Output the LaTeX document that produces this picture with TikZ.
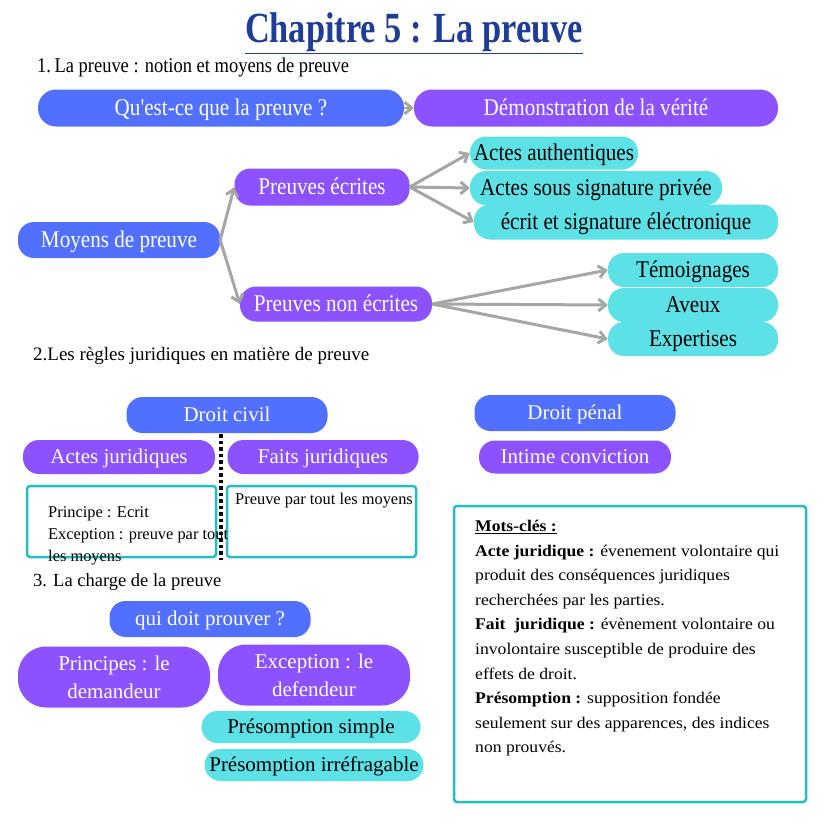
\documentclass[tikz,border=0pt]{standalone}
\usepackage{fontspec}
\setmainfont{Liberation Serif}
\newfontfamily\condfont[FakeStretch=0.88]{Liberation Serif}
\newfontfamily\titlefont[FakeStretch=0.8]{Liberation Serif}
\newfontfamily\widefont[FakeStretch=1.08]{Liberation Serif}
\usetikzlibrary{arrows.meta}
\definecolor{cblue}{HTML}{5170FF}
\definecolor{cpurple}{HTML}{8C52FF}
\definecolor{ccyan}{HTML}{5CE1E6}
\definecolor{cteal}{HTML}{22BFC2}
\definecolor{ctitle}{HTML}{1F3C96}
\definecolor{cgray}{HTML}{A6A6A6}
\tikzset{
  pill/.style={draw=none, rounded corners=16pt, minimum height=36pt, inner sep=0pt, align=center},
  bluepill/.style={pill, fill=cblue, text=white},
  purplepill/.style={pill, fill=cpurple, text=white},
  cyanpill/.style={pill, fill=ccyan, text=black},
  topfont/.style={text height=19pt, text depth=4.6pt, font=\condfont\fontsize{24}{26}\selectfont},
  lowfont/.style={font=\fontsize{21}{28}\selectfont},
  vc/.style={text height=16.6pt, text depth=4pt},
  garrow/.style={draw=cgray, line width=3pt, -{Straight Barb[length=7pt,width=12pt,line width=3pt]}},
  heading/.style={anchor=west, inner sep=0pt, font=\fontsize{19}{21}\selectfont},
  tealbox/.style={draw=cteal, line width=2.5pt, rounded corners=3pt, inner sep=0pt},
  dotline/.style={line width=3.5pt, dash pattern=on 3.5pt off 3pt}
}
\begin{document}
\begin{tikzpicture}[x=1pt,y=-1pt]
\useasboundingbox (0,0) rectangle (828,828);
\fill[white] (0,0) rectangle (828,828);

% Title
\node[inner sep=0pt, text=ctitle, font=\titlefont\bfseries\fontsize{43}{46}\selectfont] (title) at (414,33) {\underline{Chapitre 5 : La preuve}};

% Section 1
\node[heading, font=\condfont\fontsize{21}{23}\selectfont] (h1) at (37,67) {1.\,La preuve : notion et moyens de preuve};
\node[bluepill, topfont, minimum width=366pt, rounded corners=18pt, minimum height=37pt] (q) at (221,108) {Qu'est-ce que la preuve ?};
\node[purplepill, topfont, minimum width=364pt, rounded corners=18pt, minimum height=37pt] (d) at (596,108) {Démonstration de la vérité};
\draw[garrow, line width=2pt] (q.east) -- (d.west);

\node[bluepill, topfont, minimum width=202pt] (m) at (119,240) {Moyens de preuve};
\node[purplepill, topfont, minimum width=175pt, minimum height=37pt] (pe) at (322,187) {Preuves écrites};
\node[purplepill, topfont, minimum width=192pt, minimum height=35pt] (pne) at (336,304) {Preuves non écrites};

\node[cyanpill, topfont, minimum width=168pt, minimum height=33pt] (aa) at (554,153) {Actes authentiques};
\node[cyanpill, topfont, minimum width=252pt, minimum height=34pt] (as) at (596,188) {Actes sous signature privée};
\node[cyanpill, topfont, minimum width=304pt, minimum height=35pt] (ee) at (626,222) {écrit et signature éléctronique};

\node[cyanpill, topfont, minimum width=170pt, minimum height=34pt] (t) at (693,270) {Témoignages};
\node[cyanpill, topfont, minimum width=170pt, minimum height=34pt] (av) at (693,305) {Aveux};
\node[cyanpill, topfont, minimum width=170pt, minimum height=34pt] (ex) at (693,339) {Expertises};

\draw[garrow] (m.east) -- (pe.west);
\draw[garrow] (m.east) -- (pne.west);
\draw[garrow] (pe.east) -- (aa.west);
\draw[garrow] (pe.east) -- (as.west);
\draw[garrow] (pe.east) -- (ee.west);
\draw[garrow] (pne.east) -- (t.west);
\draw[garrow] (pne.east) -- (av.west);
\draw[garrow] (pne.east) -- (ex.west);

% Section 2
\node[heading] (h2) at (33,356) {2.Les règles juridiques en matière de preuve};
\node[bluepill, lowfont, vc, minimum width=201pt] (dc) at (227,415) {Droit civil};
\node[purplepill, lowfont, vc, minimum width=192pt, minimum height=34pt] (aj) at (119,457) {Actes juridiques};
\node[purplepill, lowfont, vc, minimum width=191pt, minimum height=34pt] (fj) at (323,457) {Faits juridiques};
\coordinate (dtop) at (221,434);
\coordinate (dbot) at (221,560);
\draw[dotline] (dtop) -- (dbot);

\node[tealbox, minimum width=189pt, minimum height=71pt] (bl) at (121.5,521.5) {};
\node[tealbox, minimum width=189pt, minimum height=71pt] (br) at (321.5,521.5) {};
\node[anchor=north west, inner sep=0pt, align=left, font=\fontsize{16.4}{22}\selectfont] (blt) at (48,506) {Principe : Ecrit\\Exception : preuve par tout\\les moyens};
\node[anchor=north west, inner sep=0pt, align=left, font=\fontsize{16.4}{22}\selectfont] (brt) at (235,493) {Preuve par tout les moyens};

\node[bluepill, lowfont, vc, minimum width=201pt] (dp) at (575,413) {Droit pénal};
\node[purplepill, lowfont, vc, minimum width=192pt, minimum height=33pt] (ic) at (575,457) {Intime conviction};

% Keywords box
\node[tealbox, minimum width=352pt, minimum height=296pt] (kb) at (630,654) {};
\node[anchor=north west, inner sep=0pt, align=left, font=\widefont\fontsize{16.3}{24.6}\selectfont] (kt) at (475,520) {%
\underline{\textbf{Mots-clés :}}\\
\textbf{Acte juridique :} évenement volontaire qui\\
produit des conséquences juridiques\\
recherchées par les parties.\\
\textbf{Fait\ \ juridique :} évènement volontaire ou\\
involontaire susceptible de produire des\\
effets de droit.\\
\textbf{Présomption :} supposition fondée\\
seulement sur des apparences, des indices\\
non prouvés.};

% Section 3
\node[heading, font=\fontsize{18.5}{21}\selectfont] (h3) at (33,582) {3. La charge de la preuve};
\node[bluepill, lowfont, vc, minimum width=201pt] (qd) at (210,619) {qui doit prouver ?};
\node[purplepill, lowfont, minimum width=192pt, minimum height=61pt, rounded corners=28pt] (pd) at (114,677) {Principes : le\\demandeur};
\node[purplepill, lowfont, minimum width=192pt, minimum height=61pt, rounded corners=28pt] (ed) at (314,675) {Exception : le\\defendeur};
\node[cyanpill, lowfont, vc, minimum width=219pt, minimum height=32pt] (ps) at (311,727) {Présomption simple};
\node[cyanpill, lowfont, vc, minimum width=219pt, minimum height=32pt] (pi) at (314,765) {Présomption irréfragable};
\end{tikzpicture}
\end{document}
